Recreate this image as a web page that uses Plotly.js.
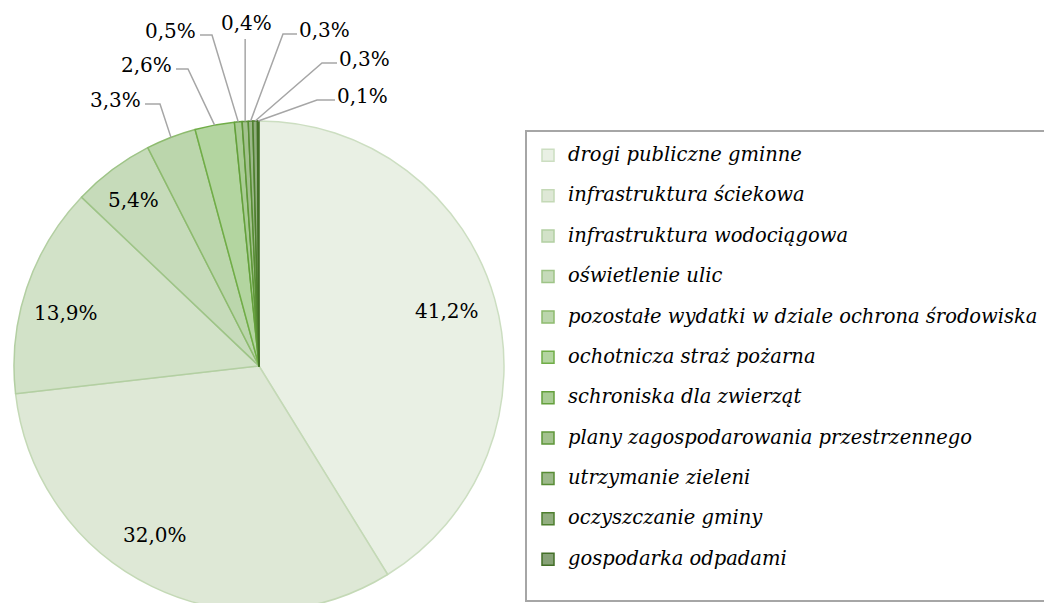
<!DOCTYPE html>
<html><head><meta charset="utf-8">
<script src="https://cdn.plot.ly/plotly-3.0.1.min.js"></script>
<style>html,body{margin:0;padding:0;overflow:hidden;background:#fff;width:1044px}#chart{width:1044px;height:620px;overflow:hidden}</style>
</head><body><div id="chart"></div>
<script>
// ---- data ----
const categories = [
  'drogi publiczne gminne',
  'infrastruktura ściekowa',
  'infrastruktura wodociągowa',
  'oświetlenie ulic',
  'pozostałe wydatki w dziale ochrona środowiska',
  'ochotnicza straż pożarna',
  'schroniska dla zwierząt',
  'plany zagospodarowania przestrzennego',
  'utrzymanie zieleni',
  'oczyszczanie gminy',
  'gospodarka odpadami'
];
const shares = [41.2, 32.0, 13.9, 5.4, 3.3, 2.6, 0.5, 0.4, 0.3, 0.3, 0.1];

// ---- styles ----
const fills   = ['#E9F0E4','#DEE8D6','#D2E2C8','#C6DBBA','#BBD6AC','#B3D5A0','#A9CC94','#A3C28E','#9CB98A','#92AE80','#87A277'];
const borders = ['#CCDEC1','#C4D9B6','#B3CFA2','#9EC487','#8DBB6E','#70AD47','#64A03C','#5E9638','#578C34','#4E7F2E','#436F27'];

const W = 1044, H = 620;
const domX = [14/W, 504/W];
const domY = [1 - 611/H, 1 - 121/H];
const cx = (domX[0] + domX[1]) / 2 * W;
const cy = (1 - (domY[0] + domY[1]) / 2) * H;
const R = Math.min((domX[1]-domX[0]) * W, (domY[1]-domY[0]) * H) / 2;

const px = x => x / W;
const py = y => 1 - y / H;
const fmt = v => v.toFixed(1).replace('.', ',') + '%';

const total = shares.reduce((a, b) => a + b, 0);
const mids = [];
let cum = 0;
shares.forEach(v => { mids.push(360 * (cum + v / 2) / total); cum += v; });
const polar = (deg, r) => {
  const t = deg * Math.PI / 180;
  return [cx + r * Math.sin(t), cy - r * Math.cos(t)];
};

// label placement for the large slices: [radius fraction, angle shift from slice middle]
const inside = {0: [0.80, -0.4], 1: [0.81, 5.7], 2: [0.817, -3.1], 3: [0.85, -0.5]};
// label layout for the small slices (pixel positions of leader elbows / ends)
const outside = {
  4:  {side: 'right', elbow: [160, 104], end: [145, 104]},
  5:  {side: 'right', elbow: [188, 69],  end: [176, 69]},
  6:  {side: 'right', elbow: [212, 35],  end: [200, 35]},
  7:  {side: 'bottom', endY: 39},
  8:  {side: 'left',  elbow: [283, 34],  end: [297, 34]},
  9:  {side: 'left',  elbow: [322, 63],  end: [337, 63]},
  10: {side: 'left',  elbow: [317, 100], end: [335, 100]}
};

const valFont = {family: 'DejaVu Serif', size: 20, color: '#000'};
const annotations = [];
const shapes = [
  // legend frame (its right side lies beyond the picture)
  {type: 'path', xref: 'paper', yref: 'paper',
   path: `M${px(1044)},${py(131)} L${px(526)},${py(131)} L${px(526)},${py(601)} L${px(1044)},${py(601)}`,
   line: {color: '#A6A6A6', width: 2}, layer: 'above'}
];
shares.forEach((v, i) => {
  const o = outside[i];
  if (!o) {
    const pl = inside[i];
    const p = polar(mids[i] + pl[1], R * pl[0]);
    annotations.push({x: px(p[0]), y: py(p[1]), xref: 'paper', yref: 'paper', text: fmt(v),
      showarrow: false, font: valFont, xanchor: 'center', yanchor: 'middle', borderpad: 0, borderwidth: 0});
    return;
  }
  const e = polar(mids[i], R);
  let path, ax, ay, xa, ya;
  if (o.side === 'bottom') {
    path = `M${px(e[0])},${py(e[1])} L${px(e[0])},${py(o.endY)}`;
    ax = e[0] + 1; ay = o.endY - 4; xa = 'center'; ya = 'bottom';
  } else {
    path = `M${px(e[0])},${py(e[1])} L${px(o.elbow[0])},${py(o.elbow[1])} L${px(o.end[0])},${py(o.end[1])}`;
    ax = o.side === 'right' ? o.end[0] - 4 : o.end[0] + 2;
    ay = o.end[1] - 4; xa = o.side === 'right' ? 'right' : 'left'; ya = 'middle';
  }
  shapes.push({type: 'path', xref: 'paper', yref: 'paper', path: path, line: {color: '#A6A6A6', width: 1.5}});
  annotations.push({x: px(ax), y: py(ay), xref: 'paper', yref: 'paper', text: fmt(v),
    showarrow: false, font: valFont, xanchor: xa, yanchor: ya, borderpad: 0, borderwidth: 0});
});

const legendLabels = categories.map(c => `<span style="font-size:19.5px">${c}</span><br> `);

const trace = {
  type: 'pie',
  values: shares,
  labels: legendLabels,
  sort: false,
  direction: 'clockwise',
  rotation: 0,
  textinfo: 'none',
  hoverinfo: 'none',
  marker: {colors: fills, line: {color: borders, width: 1.5}},
  domain: {x: domX, y: domY}
};

const layout = {
  width: W, height: H,
  margin: {l: 0, r: 0, t: 0, b: 0},
  paper_bgcolor: '#fff',
  showlegend: true,
  legend: {
    x: 528 / W, xanchor: 'left', y: 1 - 133 / H, yanchor: 'top',
    bgcolor: 'rgba(0,0,0,0)', borderwidth: 0,
    font: {family: 'DejaVu Serif', size: 14.38, style: 'italic', color: '#000'},
    title: {text: ' ', font: {size: 5}},
    valign: 'top', itemclick: false, itemdoubleclick: false
  },
  annotations: annotations,
  shapes: shapes
};

Plotly.newPlot('chart', [trace], layout, {displayModeBar: false, staticPlot: true});
</script>
</body></html>
